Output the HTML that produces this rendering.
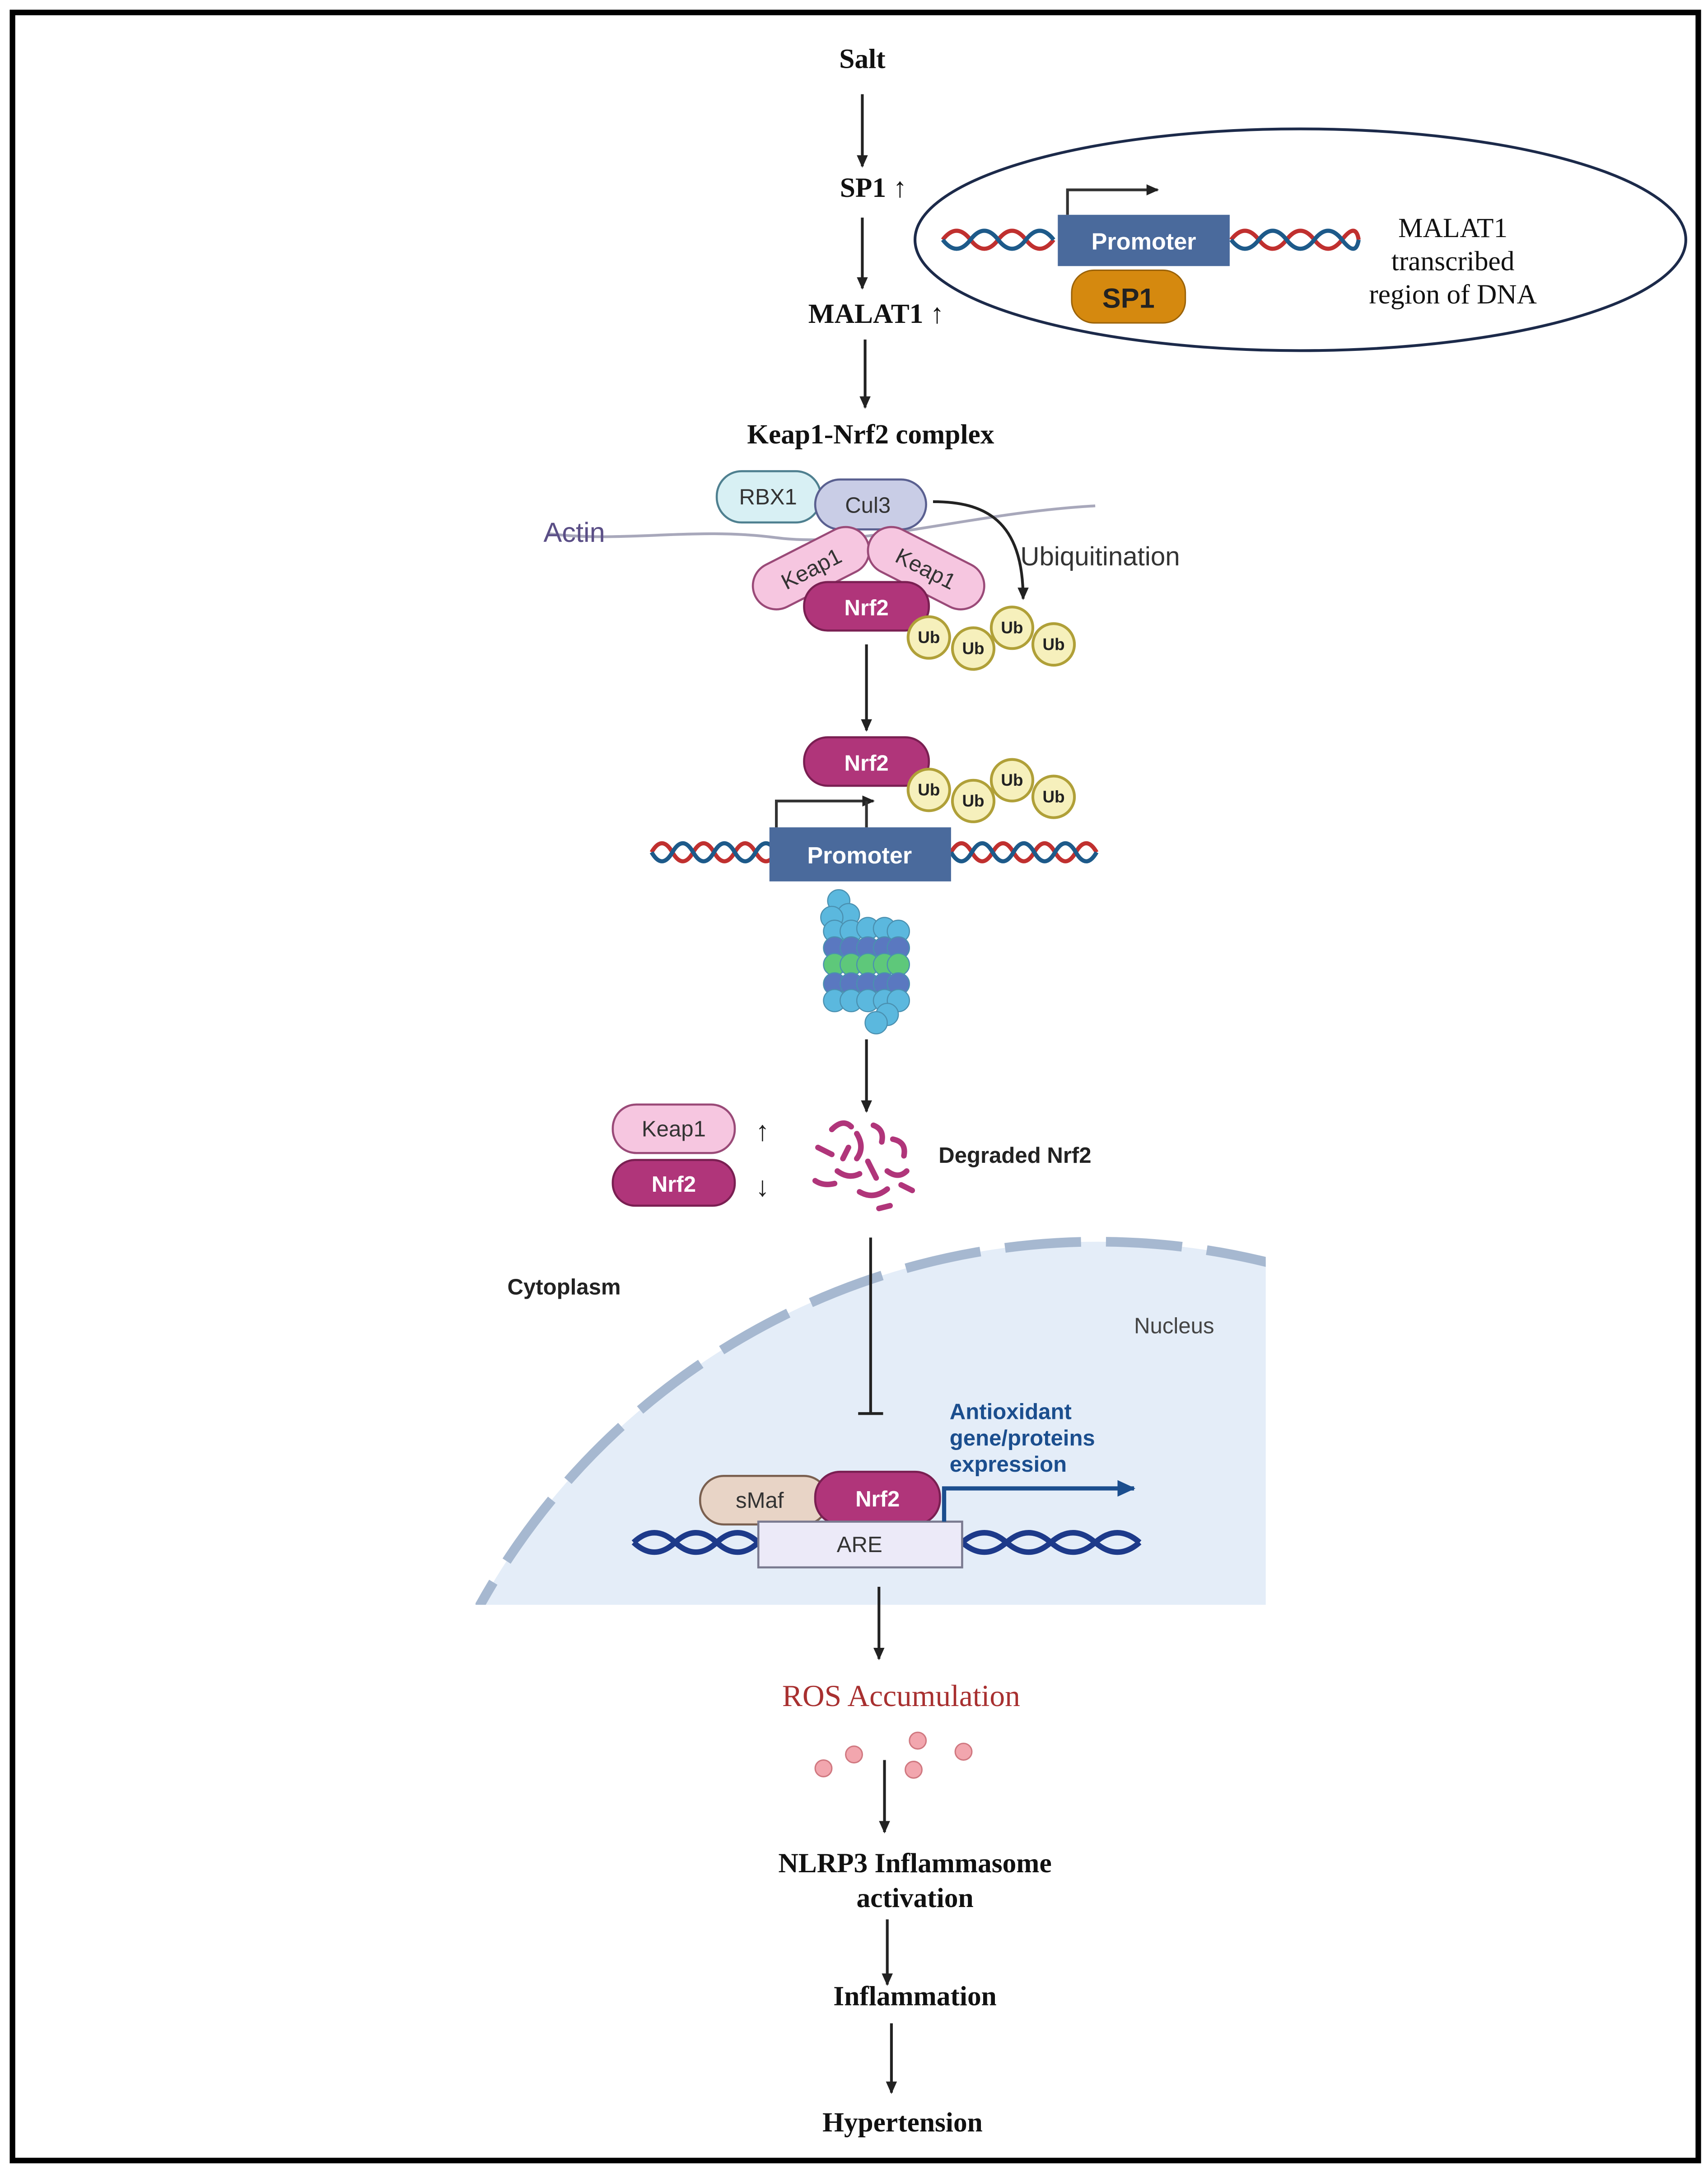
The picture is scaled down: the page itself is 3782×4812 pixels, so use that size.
<!DOCTYPE html>
<html><head><meta charset="utf-8"><style>
html,body{margin:0;padding:0;background:#fff;width:3782px;height:4812px;overflow:hidden;}
svg{display:block;}
.sb{font-family:"Liberation Serif",serif;font-weight:bold;font-size:20px;fill:#111;text-anchor:middle;}
.ss{font-family:"Liberation Sans",sans-serif;text-anchor:middle;}
</style></head><body>
<svg width="3782" height="4812" viewBox="0 0 1232 1568" preserveAspectRatio="none" xmlns="http://www.w3.org/2000/svg">
<defs>
<marker id="ah" markerWidth="10" markerHeight="10" refX="8" refY="5" orient="auto" markerUnits="userSpaceOnUse"><path d="M0,1 L9,5 L0,9 z" fill="#222"/></marker>
<marker id="ahb" markerWidth="14" markerHeight="14" refX="12" refY="7" orient="auto" markerUnits="userSpaceOnUse"><path d="M0,1 L13,7 L0,13 z" fill="#1b4e8e"/></marker>
<clipPath id="nc"><rect x="343" y="880" width="570" height="278"/></clipPath>
</defs>
<rect x="0" y="0" width="1232" height="1568" fill="#fff"/>
<rect x="9" y="9" width="1216" height="1550" fill="none" stroke="#000" stroke-width="4"/>

<text class="sb" x="622" y="49">Salt</text>
<line x1="622" y1="68" x2="622" y2="120" stroke="#222" stroke-width="2" marker-end="url(#ah)"/>
<text class="sb" x="630" y="142">SP1 <tspan font-family="Liberation Sans">↑</tspan></text>
<line x1="622" y1="157" x2="622" y2="208" stroke="#222" stroke-width="2" marker-end="url(#ah)"/>
<text class="sb" x="632" y="233">MALAT1 <tspan font-family="Liberation Sans">↑</tspan></text>
<line x1="624" y1="245" x2="624" y2="294" stroke="#222" stroke-width="2" marker-end="url(#ah)"/>
<text class="sb" x="628" y="320">Keap1-Nrf2 complex</text>

<ellipse cx="938" cy="173" rx="278" ry="80" fill="none" stroke="#1c2a4a" stroke-width="2"/>
<path d="M680,173 q10,-13 20,0 t20,0 t20,0 t20,0" fill="none" stroke="#c0302f" stroke-width="3"/>
<path d="M680,173 q10,13 20,0 t20,0 t20,0 t20,0" fill="none" stroke="#1d5a8a" stroke-width="3"/>
<path d="M888,173 q10,-13 20,0 t20,0 t20,0 t20,0 t12,0" fill="none" stroke="#c0302f" stroke-width="3"/>
<path d="M888,173 q10,13 20,0 t20,0 t20,0 t20,0 t12,0" fill="none" stroke="#1d5a8a" stroke-width="3"/>
<rect x="763" y="155" width="124" height="37" fill="#4a6a9c"/>
<text class="ss" x="825" y="180" font-size="17" font-weight="bold" fill="#fff">Promoter</text>
<path d="M770,155 V137 H835" fill="none" stroke="#333" stroke-width="2" marker-end="url(#ah)"/>
<rect x="773" y="195" width="82" height="38" rx="16" fill="#d5890f" stroke="#9a6208" stroke-width="1"/>
<text class="ss" x="814" y="222" font-size="20" font-weight="bold" fill="#222">SP1</text>
<g font-family="Liberation Serif,serif" font-size="20" fill="#111" text-anchor="middle">
<text x="1048" y="171">MALAT1</text><text x="1048" y="195">transcribed</text><text x="1048" y="219">region of DNA</text></g>

<path d="M395,385 C450,392 500,380 560,388 S700,370 790,365" fill="none" stroke="#a8a8bb" stroke-width="2"/>
<text x="392" y="391" font-family="Liberation Sans,sans-serif" font-size="20" fill="#5a4e86">Actin</text>
<rect x="517" y="340" width="75" height="37" rx="18" fill="#d8f0f4" stroke="#4f8090" stroke-width="1.5"/>
<text class="ss" x="554" y="364" font-size="16" fill="#333">RBX1</text>
<rect x="588" y="346" width="80" height="36" rx="18" fill="#c9cde6" stroke="#5a6090" stroke-width="1.5"/>
<text class="ss" x="626" y="370" font-size="16" fill="#333">Cul3</text>
<g transform="translate(585,410) rotate(-27)"><rect x="-45" y="-17" width="90" height="34" rx="17" fill="#f6c6e0" stroke="#9a4a78" stroke-width="1.5"/><text class="ss" y="6" font-size="16" fill="#333">Keap1</text></g>
<g transform="translate(668,410) rotate(27)"><rect x="-45" y="-17" width="90" height="34" rx="17" fill="#f6c6e0" stroke="#9a4a78" stroke-width="1.5"/><text class="ss" y="6" font-size="16" fill="#333">Keap1</text></g>
<rect x="580" y="420" width="90" height="35" rx="17" fill="#b0357a" stroke="#7a1f52" stroke-width="1.5"/>
<text class="ss" x="625" y="444" font-size="16" font-weight="bold" fill="#fff">Nrf2</text>
<path d="M673,362 C710,362 738,375 738,432" fill="none" stroke="#222" stroke-width="2" marker-end="url(#ah)"/>
<text x="736" y="408" font-family="Liberation Sans,sans-serif" font-size="19" fill="#333">Ubiquitination</text>
<g font-family="Liberation Sans,sans-serif" font-size="12" font-weight="bold" text-anchor="middle" fill="#222">
<g stroke="#b0a038" stroke-width="2" fill="#f6f0bc"><circle cx="670" cy="460" r="15"/><circle cx="702" cy="468" r="15"/><circle cx="730" cy="453" r="15"/><circle cx="760" cy="465" r="15"/></g>
<text x="670" y="464">Ub</text><text x="702" y="472">Ub</text><text x="730" y="457">Ub</text><text x="760" y="469">Ub</text>
</g>
<line x1="625" y1="465" x2="625" y2="527" stroke="#222" stroke-width="2" marker-end="url(#ah)"/>

<rect x="580" y="532" width="90" height="35" rx="17" fill="#b0357a" stroke="#7a1f52" stroke-width="1.5"/>
<text class="ss" x="625" y="556" font-size="16" font-weight="bold" fill="#fff">Nrf2</text>
<g font-family="Liberation Sans,sans-serif" font-size="12" font-weight="bold" text-anchor="middle" fill="#222">
<g stroke="#b0a038" stroke-width="2" fill="#f6f0bc"><circle cx="670" cy="570" r="15"/><circle cx="702" cy="578" r="15"/><circle cx="730" cy="563" r="15"/><circle cx="760" cy="575" r="15"/></g>
<text x="670" y="574">Ub</text><text x="702" y="582">Ub</text><text x="730" y="567">Ub</text><text x="760" y="579">Ub</text>
</g>
<path d="M470,615 q7.5,-13 15,0 t15,0 t15,0 t15,0 t15,0 t15,0" fill="none" stroke="#c0302f" stroke-width="3"/>
<path d="M470,615 q7.5,13 15,0 t15,0 t15,0 t15,0 t15,0 t15,0" fill="none" stroke="#1d5a8a" stroke-width="3"/>
<path d="M686,615 q7.5,-13 15,0 t15,0 t15,0 t15,0 t15,0 t15,0 t15,0" fill="none" stroke="#c0302f" stroke-width="3"/>
<path d="M686,615 q7.5,13 15,0 t15,0 t15,0 t15,0 t15,0 t15,0 t15,0" fill="none" stroke="#1d5a8a" stroke-width="3"/>
<rect x="555" y="597" width="131" height="39" fill="#4a6a9c"/>
<text class="ss" x="620" y="623" font-size="17" font-weight="bold" fill="#fff">Promoter</text>
<path d="M560,597 V578 H630" fill="none" stroke="#333" stroke-width="2" marker-end="url(#ah)"/>
<line x1="625" y1="578" x2="625" y2="597" stroke="#333" stroke-width="2"/>

<g stroke="#4a90b0" stroke-width="0.8">
<circle cx="605" cy="650" r="8" fill="#5bb8de"/><circle cx="612" cy="660" r="8" fill="#5bb8de"/><circle cx="600" cy="662" r="8" fill="#5bb8de"/>
<g fill="#5bb8de"><circle cx="602" cy="672" r="8"/><circle cx="614" cy="672" r="8"/><circle cx="626" cy="670" r="8"/><circle cx="638" cy="670" r="8"/><circle cx="648" cy="672" r="8"/></g>
<g fill="#5a78c0"><circle cx="602" cy="684" r="8"/><circle cx="614" cy="684" r="8"/><circle cx="626" cy="684" r="8"/><circle cx="638" cy="684" r="8"/><circle cx="648" cy="684" r="8"/></g>
<g fill="#5ec87a"><circle cx="602" cy="696" r="8"/><circle cx="614" cy="696" r="8"/><circle cx="626" cy="696" r="8"/><circle cx="638" cy="696" r="8"/><circle cx="648" cy="696" r="8"/></g>
<g fill="#5a78c0"><circle cx="602" cy="710" r="8"/><circle cx="614" cy="710" r="8"/><circle cx="626" cy="710" r="8"/><circle cx="638" cy="710" r="8"/><circle cx="648" cy="710" r="8"/></g>
<g fill="#5bb8de"><circle cx="602" cy="722" r="8"/><circle cx="614" cy="722" r="8"/><circle cx="626" cy="722" r="8"/><circle cx="638" cy="722" r="8"/><circle cx="648" cy="722" r="8"/><circle cx="640" cy="732" r="8"/><circle cx="632" cy="738" r="8"/></g>
</g>
<line x1="625" y1="750" x2="625" y2="802" stroke="#222" stroke-width="2" marker-end="url(#ah)"/>

<rect x="442" y="797" width="88" height="35" rx="17" fill="#f6c6e0" stroke="#9a4a78" stroke-width="1.5"/>
<text class="ss" x="486" y="820" font-size="16" fill="#333">Keap1</text>
<rect x="442" y="837" width="88" height="33" rx="16" fill="#b0357a" stroke="#7a1f52" stroke-width="1.5"/>
<text class="ss" x="486" y="860" font-size="16" font-weight="bold" fill="#fff">Nrf2</text>
<text class="ss" x="550" y="823" font-size="20" font-weight="bold" fill="#222">↑</text>
<text class="ss" x="550" y="863" font-size="20" font-weight="bold" fill="#222">↓</text>
<g fill="none" stroke="#b0357a" stroke-width="4" stroke-linecap="round">
<path d="M600,815 q8,-8 14,-2"/><path d="M590,828 l10,5"/><path d="M618,818 q6,10 0,18"/><path d="M630,812 q8,3 6,12"/><path d="M644,822 q10,2 8,12"/><path d="M604,845 q8,6 16,2"/><path d="M626,838 l6,12"/><path d="M640,845 q8,6 14,0"/><path d="M588,852 q6,4 14,2"/><path d="M620,860 q10,6 20,-2"/><path d="M650,855 l8,4"/><path d="M612,828 l-4,8"/><path d="M634,872 l8,-2"/>
</g>
<text x="677" y="839" font-family="Liberation Sans,sans-serif" font-size="16" font-weight="bold" fill="#222">Degraded Nrf2</text>

<g clip-path="url(#nc)">
<circle cx="792" cy="1406" r="510" fill="#e4edf8"/>
<circle cx="792" cy="1406" r="510" fill="none" stroke="#a6b8d0" stroke-width="7" stroke-dasharray="55,18"/>
</g>
<text x="366" y="934" font-family="Liberation Sans,sans-serif" font-size="16" font-weight="bold" fill="#222">Cytoplasm</text>
<text x="818" y="962" font-family="Liberation Sans,sans-serif" font-size="16" fill="#444">Nucleus</text>
<line x1="628" y1="893" x2="628" y2="1020" stroke="#222" stroke-width="2"/>
<line x1="619" y1="1020" x2="637" y2="1020" stroke="#222" stroke-width="2"/>

<path d="M457,1113 q15,-14 30,0 t30,0 t30,0" fill="none" stroke="#1d3a8a" stroke-width="4"/>
<path d="M457,1113 q15,14 30,0 t30,0 t30,0" fill="none" stroke="#1d3a8a" stroke-width="4"/>
<path d="M694,1113 q16,-14 32,0 t32,0 t32,0 t32,0" fill="none" stroke="#1d3a8a" stroke-width="4"/>
<path d="M694,1113 q16,14 32,0 t32,0 t32,0 t32,0" fill="none" stroke="#1d3a8a" stroke-width="4"/>
<rect x="505" y="1065" width="92" height="35" rx="17" fill="#e8d4c6" stroke="#7a6050" stroke-width="1.5"/>
<text class="ss" x="548" y="1088" font-size="16" fill="#333">sMaf</text>
<rect x="588" y="1062" width="90" height="38" rx="18" fill="#b0357a" stroke="#7a1f52" stroke-width="1.5"/>
<text class="ss" x="633" y="1087" font-size="16" font-weight="bold" fill="#fff">Nrf2</text>
<rect x="547" y="1098" width="147" height="33" fill="#eceaf8" stroke="#7a7a90" stroke-width="1.5"/>
<text class="ss" x="620" y="1120" font-size="16" fill="#333">ARE</text>
<path d="M681,1098 V1074 H818" fill="none" stroke="#1b4e8e" stroke-width="3" marker-end="url(#ahb)"/>
<g font-family="Liberation Sans,sans-serif" font-size="16" font-weight="bold" fill="#1b4e8e">
<text x="685" y="1024">Antioxidant</text><text x="685" y="1043">gene/proteins</text><text x="685" y="1062">expression</text></g>

<line x1="634" y1="1145" x2="634" y2="1197" stroke="#222" stroke-width="2" marker-end="url(#ah)"/>
<text class="sb" x="650" y="1231" style="fill:#a83030;font-weight:normal;font-size:22px">ROS Accumulation</text>
<g fill="#f2a6ae" stroke="#d07880" stroke-width="1"><circle cx="594" cy="1276" r="6"/><circle cx="616" cy="1266" r="6"/><circle cx="662" cy="1256" r="6"/><circle cx="659" cy="1277" r="6"/><circle cx="695" cy="1264" r="6"/></g>
<line x1="638" y1="1270" x2="638" y2="1322" stroke="#222" stroke-width="2" marker-end="url(#ah)"/>
<text class="sb" x="660" y="1351">NLRP3 Inflammasome</text>
<text class="sb" x="660" y="1376">activation</text>
<line x1="640" y1="1385" x2="640" y2="1432" stroke="#222" stroke-width="2" marker-end="url(#ah)"/>
<text class="sb" x="660" y="1447">Inflammation</text>
<line x1="643" y1="1460" x2="643" y2="1510" stroke="#222" stroke-width="2" marker-end="url(#ah)"/>
<text class="sb" x="651" y="1538">Hypertension</text>
</svg>
</body></html>
